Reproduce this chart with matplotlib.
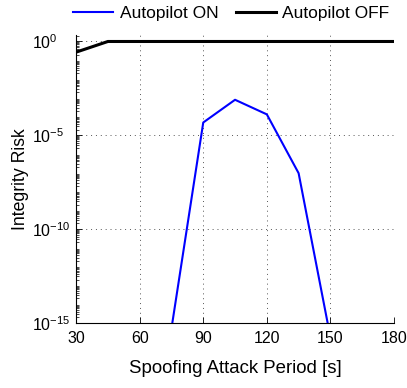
import matplotlib
matplotlib.use("Agg")
import matplotlib.pyplot as plt
from matplotlib.ticker import LogLocator, FixedLocator, NullFormatter

plt.rcParams['font.family'] = ['Liberation Sans', 'DejaVu Sans']
plt.rcParams['mathtext.fontset'] = 'custom'
plt.rcParams['mathtext.rm'] = 'Liberation Sans'
plt.rcParams['mathtext.it'] = 'Liberation Sans'

# spoofing attack period [s]
period_off = [30, 45, 60, 75, 90, 105, 120, 135, 150, 165, 180]
risk_off = [0.27, 1.0, 1.0, 1.0, 1.0, 1.0, 1.0, 1.0, 1.0, 1.0, 1.0]

period_on = [75, 90, 105, 120, 135, 150]
risk_on = [5e-16, 4.8e-5, 7.8e-4, 1.3e-4, 9.5e-8, 1.7e-16]

xticks = [30, 60, 90, 120, 150, 180]
yticks = [1e-15, 1e-10, 1e-5, 1e0]
ytick_labels = ['$10^{-15}$', '$10^{-10}$', '$10^{-5}$', '$10^{0}$']

fig = plt.figure(figsize=(4.07, 3.88), dpi=100)
ax = fig.add_axes([0.187, 0.168, 0.781, 0.742])

ax.semilogy(period_on, risk_on, color='#0000ff', lw=1.5, label='Autopilot ON')
ax.semilogy(period_off, risk_off, color='black', lw=2.2, label='Autopilot OFF')

ax.set_xlim(30, 180)
ax.set_ylim(1e-15, 10**0.35)
ax.set_xticks(xticks)
ax.set_xticklabels([str(t) for t in xticks])
ax.yaxis.set_major_locator(FixedLocator(yticks))
ax.set_yticklabels(ytick_labels)
ax.yaxis.set_minor_locator(LogLocator(base=10, subs=range(2, 10), numticks=100))
ax.yaxis.set_minor_formatter(NullFormatter())

ax.tick_params(direction='in', labelsize=11.5, length=4, width=0.6)
ax.tick_params(which='minor', direction='in', length=2, width=0.5)
ax.tick_params(axis='x', pad=6)
ax.tick_params(axis='y', pad=32)
for lbl in ax.get_yticklabels():
    lbl.set_horizontalalignment('left')

ax.spines['top'].set_visible(False)
ax.spines['right'].set_visible(False)
ax.grid(True, which='major', linestyle=(0, (1, 4)), color='#555555', lw=0.7)

ax.set_xlabel('Spoofing Attack Period [s]', fontsize=13.4, labelpad=10)
ax.set_ylabel('Integrity Risk', fontsize=12.7, labelpad=2)

fig.legend(loc='upper center', bbox_to_anchor=(0.568, 1.025), ncol=2, frameon=False,
           fontsize=12.5, handlelength=2.3, columnspacing=1.0, handletextpad=0.4)

fig.savefig('out.png', dpi=100)
